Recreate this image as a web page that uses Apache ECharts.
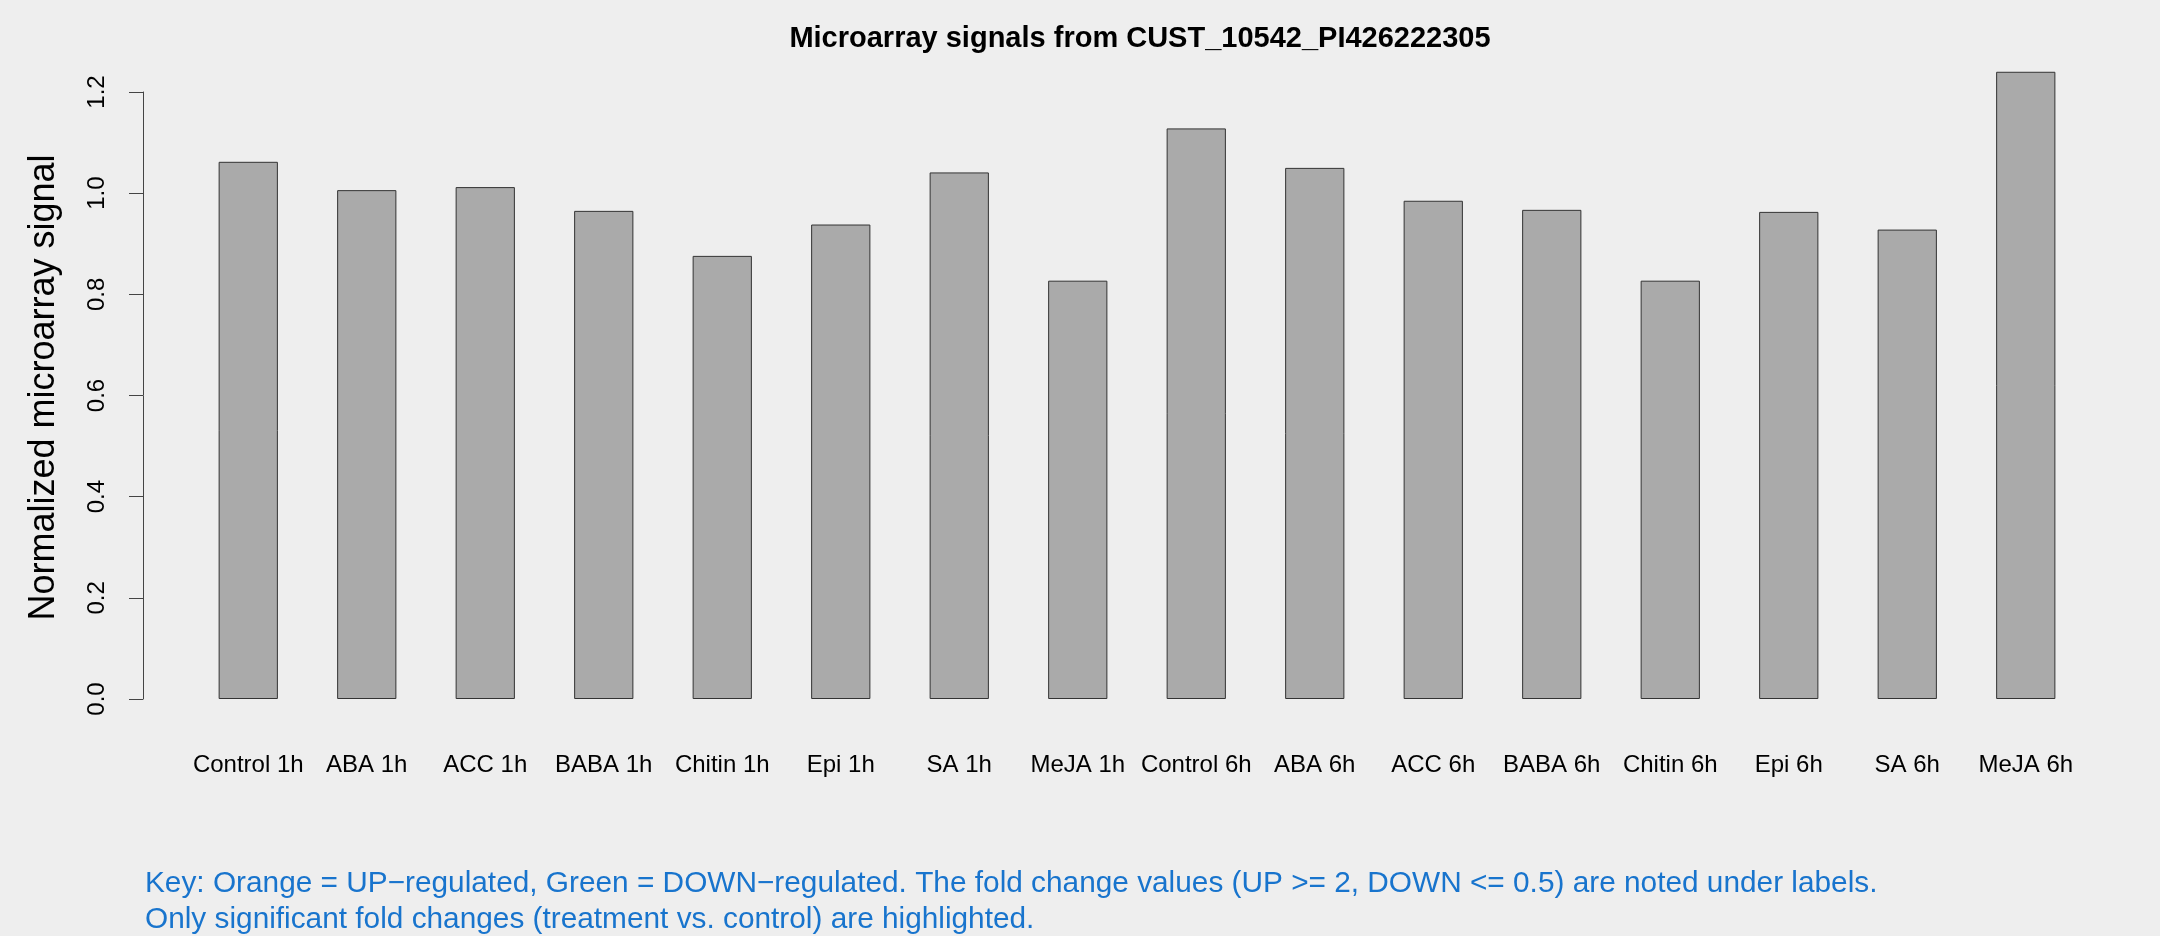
<!DOCTYPE html>
<html>
<head>
<meta charset="utf-8">
<script src="https://cdn.jsdelivr.net/npm/echarts@6/dist/echarts.min.js"></script>
<style>
html,body{margin:0;padding:0;background:#EEEEEE;}
#chart{width:2160px;height:936px;}
</style>
</head>
<body>
<div id="chart"></div>
<script>
const categories = ["Control 1h","ABA 1h","ACC 1h","BABA 1h","Chitin 1h","Epi 1h","SA 1h","MeJA 1h",
  "Control 6h","ABA 6h","ACC 6h","BABA 6h","Chitin 6h","Epi 6h","SA 6h","MeJA 6h"];
const signalValues = [1.062,1.006,1.012,0.965,0.876,0.938,1.041,0.827,
  1.128,1.050,0.985,0.967,0.827,0.963,0.928,1.240];
const yTicks = [0.0,0.2,0.4,0.6,0.8,1.0,1.2];
const titleText = "Microarray signals from CUST_10542_PI426222305";
const yAxisTitle = "Normalized microarray signal";
const keyLines = [
  "Key: Orange = UP\u2212regulated, Green = DOWN\u2212regulated. The fold change values (UP >= 2, DOWN <= 0.5) are noted under labels.",
  "Only significant fold changes (treatment vs. control) are highlighted."
];

const chart = echarts.init(document.getElementById('chart'), null, {renderer:'canvas'});
const fontFam = 'Liberation Sans, Arial, Helvetica, sans-serif';
chart.setOption({
  backgroundColor: '#EEEEEE',
  animation: false,
  title: {
    text: titleText,
    left: 1135,
    textAlign: 'center',
    top: 19,
    textStyle: {fontFamily: fontFam, fontWeight: 'bold', fontSize: 29, color: '#000'}
  },
  grid: {left: 189, right: 75, top: 92, bottom: 237, containLabel: false},
  xAxis: {
    type: 'category',
    data: categories,
    axisLine: {show: false},
    axisTick: {show: false},
    axisLabel: {fontFamily: fontFam, fontSize: 24, color: '#000', margin: 54, interval: 0}
  },
  yAxis: {
    type: 'value',
    min: yTicks[0],
    max: yTicks[yTicks.length-1],
    interval: 0.2,
    offset: 46,
    name: yAxisTitle,
    nameLocation: 'middle',
    nameRotate: 90,
    nameGap: 81,
    nameTextStyle: {fontFamily: fontFam, fontSize: 36, color: '#000', padding: [0, 0, 0, 16]},
    splitLine: {show: false},
    axisLine: {show: true, lineStyle: {color: '#444', width: 1}},
    axisTick: {show: true, length: 14, lineStyle: {color: '#444', width: 1}},
    axisLabel: {
      rotate: 90, fontFamily: fontFam, fontSize: 24, color: '#000', margin: 34,
      formatter: v => v.toFixed(1)
    }
  },
  series: [{
    type: 'bar',
    data: signalValues,
    barWidth: '50%',
    clip: false,
    itemStyle: {color: '#AAAAAA', borderColor: '#333', borderWidth: 1}
  }],
  graphic: keyLines.map((t, i) => ({
    type: 'text',
    left: 145,
    top: 869 + i * 36,
    style: {text: t, fontFamily: fontFam, fontSize: 29.8, fill: '#1874CD'}
  }))
});
</script>
</body>
</html>
